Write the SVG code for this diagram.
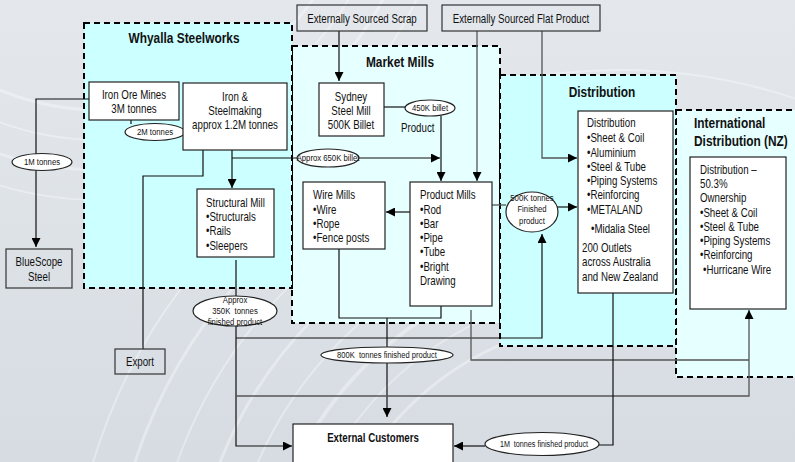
<svg xmlns="http://www.w3.org/2000/svg" width="795" height="462" viewBox="0 0 795 462">
<defs>
<style>
.t{font-family:'Liberation Sans',Arial,sans-serif;font-size:12px;fill:#111}
.c{text-anchor:middle}
.b{font-weight:bold}
.h{font-family:'Liberation Sans',Arial,sans-serif;font-size:14px;font-weight:bold;fill:#111}
.s{font-family:'Liberation Sans',Arial,sans-serif;font-size:9px;fill:#111;text-anchor:middle}
.box{fill:#fff;stroke:#222;stroke-width:1.2}
.gbox{fill:none;stroke:#333;stroke-width:1.2}
.ell{fill:#fff;stroke:#222;stroke-width:1.2}
.cont{stroke:#000;stroke-width:2;stroke-dasharray:6,4}
.ln{fill:none;stroke:#111;stroke-width:1.2}
.gl{fill:none;stroke:#555;stroke-width:1.3}
.arc{fill:none;stroke:#fff;stroke-opacity:0.35}
</style>
<marker id="ar" viewBox="0 0 10 10" refX="10" refY="5" markerWidth="9" markerHeight="9" markerUnits="userSpaceOnUse" orient="auto">
<path d="M0,0 L10,5 L0,10 z" fill="#000"/>
</marker>
<linearGradient id="bg" x1="0" y1="0" x2="0" y2="1">
<stop offset="0" stop-color="#e4e8ec"/>
<stop offset="1" stop-color="#d6dce2"/>
</linearGradient>
</defs>
<g id="background">
<rect width="795" height="462" fill="url(#bg)"/>
<circle class="arc" cx="620" cy="620" r="300" stroke-width="3"/>
<circle class="arc" cx="620" cy="620" r="330" stroke-width="2"/>
<circle class="arc" cx="620" cy="620" r="360" stroke-width="4"/>
<circle class="arc" cx="620" cy="620" r="395" stroke-width="2"/>
<circle class="arc" cx="620" cy="620" r="430" stroke-width="3"/>
<circle class="arc" cx="620" cy="620" r="470" stroke-width="2"/>
<circle class="arc" cx="620" cy="620" r="510" stroke-width="3"/>
<circle class="arc" cx="620" cy="620" r="550" stroke-width="2"/>
<circle class="arc" cx="100" cy="-150" r="260" stroke-width="3"/>
<circle class="arc" cx="100" cy="-150" r="290" stroke-width="2"/>
<circle class="arc" cx="100" cy="-150" r="320" stroke-width="3"/>
<circle class="arc" cx="100" cy="-150" r="350" stroke-width="2"/>
</g>
<g id="containers">
<rect id="market-mills" x="292" y="46" width="208" height="277" fill="#e6ffff" class="cont"/>
<rect id="nz" x="676" y="110" width="125" height="267" fill="#e6ffff" class="cont"/>
<rect id="distribution" x="500" y="75" width="176" height="271" fill="#ccffff" class="cont"/>
<rect id="whyalla" x="84" y="23" width="208" height="265" fill="#ccffff" class="cont"/>
<text class="h c" transform="translate(184,43) scale(.85,1)">Whyalla Steelworks</text>
<text class="h c" transform="translate(400,67) scale(.85,1)">Market Mills</text>
<text class="h c" transform="translate(602,97) scale(.85,1)">Distribution</text>
<text class="h" transform="translate(694,128) scale(.85,1)">International</text>
<text class="h" transform="translate(694,146) scale(.85,1)">Distribution (NZ)</text>
</g>
<g id="connectors">
<polyline class="ln" points="89,99 36,99 36,247" marker-end="url(#ar)"/>
<line class="ln" x1="131" y1="120" x2="131" y2="124"/>
<line class="ln" x1="185" y1="128" x2="196" y2="128" marker-end="url(#ar)"/>
<polyline class="ln" points="203,150 203,176 143,176 143,349"/>
<line class="ln" x1="232" y1="150" x2="232" y2="188" marker-end="url(#ar)"/>
<line class="ln" x1="232" y1="158" x2="440" y2="158" marker-end="url(#ar)"/>
<line class="ln" x1="339" y1="31" x2="339" y2="81" marker-end="url(#ar)"/>
<line class="ln" x1="384" y1="107" x2="406" y2="107"/>
<line class="ln" x1="441" y1="116" x2="441" y2="181" marker-end="url(#ar)"/>
<line class="gl" x1="477" y1="31" x2="477" y2="181" marker-end="url(#ar)"/>
<polyline class="gl" points="542,31 542,158 577,158" marker-end="url(#ar)"/>
<line class="ln" x1="410" y1="212" x2="386" y2="212" marker-end="url(#ar)"/>
<line class="gl" x1="492" y1="205" x2="506" y2="205"/>
<line class="ln" x1="557" y1="207" x2="577" y2="207" marker-end="url(#ar)"/>
<polyline class="ln" points="339,249 339,318 441,318 441,306"/>
<line class="ln" x1="387" y1="318" x2="387" y2="417" marker-end="url(#ar)"/>
<polyline class="ln" points="236,260 236,446 292,446" marker-end="url(#ar)"/>
<polyline class="ln" points="236,338 542,338 542,234" marker-end="url(#ar)"/>
<polyline class="gl" points="236,396 749,396 749,310" marker-end="url(#ar)"/>
<polyline class="gl" points="471,310 471,360 749,360"/>
<polyline class="ln" points="613,293 613,445 599,445"/>
<line class="ln" x1="485" y1="446" x2="454" y2="446" marker-end="url(#ar)"/>
</g>
<g id="label-2m"><ellipse class="ell" cx="155" cy="132" rx="30" ry="8.5"/><text class="s" transform="translate(155,135) scale(.86,1)">2M tonnes</text></g>
<g id="label-1m"><ellipse class="ell" cx="42" cy="162" rx="30" ry="8.5"/><text class="s" transform="translate(42,165) scale(.86,1)">1M tonnes</text></g>
<g id="label-650k"><ellipse class="ell" cx="328" cy="158" rx="31" ry="9"/><text class="s" transform="translate(328,161) scale(.86,1)">Approx 650K billet</text></g>
<g id="label-450k"><ellipse class="ell" cx="430" cy="108" rx="25" ry="8"/><text class="s" transform="translate(430,111) scale(.86,1)">450K billet</text></g>
<g id="label-500k"><ellipse class="ell" cx="532" cy="212" rx="26" ry="20"/><text class="s" transform="translate(532,201) scale(.86,1)">500K tonnes</text><text class="s" transform="translate(532,212) scale(.86,1)">Finished</text><text class="s" transform="translate(532,224) scale(.86,1)">product</text></g>
<g id="label-350k"><ellipse class="ell" cx="235" cy="311" rx="42" ry="15"/><text class="s" transform="translate(235,303) scale(.86,1)">Approx</text><text class="s" transform="translate(235,314) scale(.86,1)" xml:space="preserve">350K  tonnes</text><text class="s" transform="translate(235,325) scale(.86,1)">finished product</text></g>
<g id="label-800k"><ellipse class="ell" cx="387" cy="355" rx="66" ry="8"/><text class="s" transform="translate(387,358) scale(.84,1)" xml:space="preserve">800K  tonnes finished product</text></g>
<g id="label-1mfp"><ellipse class="ell" cx="542" cy="444" rx="57" ry="11.5"/><text class="s" transform="translate(544,447) scale(.8,1)" xml:space="preserve">1M  tonnes finished product</text></g>
<g id="iron-ore-mines"><rect class="box" x="89" y="82" width="90" height="38"/><text class="t c" transform="translate(134,99) scale(.81,1)">Iron Ore Mines</text><text class="t c" transform="translate(134,113) scale(.81,1)">3M tonnes</text></g>
<g id="iron-steelmaking"><rect class="box" x="183" y="83" width="104" height="67"/><text class="t c" transform="translate(235,101) scale(.81,1)">Iron &amp;</text><text class="t c" transform="translate(235,115) scale(.81,1)">Steelmaking</text><text class="t c" transform="translate(235,129) scale(.81,1)">approx 1.2M tonnes</text></g>
<g id="structural-mill"><rect class="box" x="197" y="189" width="77" height="68"/><text class="t" transform="translate(206,207) scale(.81,1)">Structural Mill</text><text class="t" transform="translate(206,221) scale(.81,1)">•Structurals</text><text class="t" transform="translate(206,235) scale(.81,1)">•Rails</text><text class="t" transform="translate(206,250) scale(.81,1)">•Sleepers</text></g>
<g id="bluescope"><rect class="gbox" x="6" y="249" width="66" height="39"/><text class="t c" transform="translate(39,266) scale(.81,1)">BlueScope</text><text class="t c" transform="translate(39,281) scale(.81,1)">Steel</text></g>
<g id="export"><rect class="gbox" x="115" y="349" width="50" height="25"/><text class="t c" transform="translate(140,366) scale(.81,1)">Export</text></g>
<g id="scrap"><rect class="gbox" x="297" y="5" width="130" height="26"/><text class="t c" transform="translate(362,23) scale(.81,1)">Externally Sourced Scrap</text></g>
<g id="flat-product"><rect class="gbox" x="442" y="5" width="158" height="26"/><text class="t c" transform="translate(521,23) scale(.81,1)">Externally Sourced Flat Product</text></g>
<g id="sydney-steel-mill"><rect class="box" x="319" y="83" width="65" height="53"/><text class="t c" transform="translate(351,101) scale(.81,1)">Sydney</text><text class="t c" transform="translate(351,115) scale(.81,1)">Steel Mill</text><text class="t c" transform="translate(351,129) scale(.81,1)">500K Billet</text></g>
<text class="t" transform="translate(401,132) scale(.81,1)">Product</text>
<g id="wire-mills"><rect class="box" x="303" y="182" width="82" height="67"/><text class="t" transform="translate(313,199) scale(.81,1)">Wire Mills</text><text class="t" transform="translate(313,214) scale(.81,1)">•Wire</text><text class="t" transform="translate(313,228) scale(.81,1)">•Rope</text><text class="t" transform="translate(313,242) scale(.81,1)">•Fence posts</text></g>
<g id="product-mills"><rect class="box" x="410" y="182" width="82" height="124"/><text class="t" transform="translate(420,199) scale(.81,1)">Product Mills</text><text class="t" transform="translate(420,214) scale(.81,1)">•Rod</text><text class="t" transform="translate(420,228) scale(.81,1)">•Bar</text><text class="t" transform="translate(420,242) scale(.81,1)">•Pipe</text><text class="t" transform="translate(420,256) scale(.81,1)">•Tube</text><text class="t" transform="translate(420,271) scale(.81,1)">•Bright</text><text class="t" transform="translate(420,285) scale(.81,1)">Drawing</text></g>
<g id="distribution-node"><rect class="box" x="578" y="111" width="95" height="182"/><text class="t" transform="translate(587,127) scale(.81,1)">Distribution</text><text class="t" transform="translate(587,142) scale(.81,1)">•Sheet &amp; Coil</text><text class="t" transform="translate(587,157) scale(.81,1)">•Aluminium</text><text class="t" transform="translate(587,171) scale(.81,1)">•Steel &amp; Tube</text><text class="t" transform="translate(587,185) scale(.81,1)">•Piping Systems</text><text class="t" transform="translate(587,199) scale(.81,1)">•Reinforcing</text><text class="t" transform="translate(587,214) scale(.81,1)">•METALAND</text><text class="t" transform="translate(591,233) scale(.81,1)">•Midalia Steel</text><text class="t" transform="translate(582,252) scale(.81,1)">200 Outlets</text><text class="t" transform="translate(582,266) scale(.81,1)">across Australia</text><text class="t" transform="translate(582,281) scale(.81,1)">and New Zealand</text></g>
<g id="nz-node"><rect class="box" x="690" y="157" width="96" height="152"/><text class="t" transform="translate(700,174) scale(.81,1)">Distribution –</text><text class="t" transform="translate(700,188) scale(.81,1)">50.3%</text><text class="t" transform="translate(700,202) scale(.81,1)">Ownership</text><text class="t" transform="translate(700,217) scale(.81,1)">•Sheet &amp; Coil</text><text class="t" transform="translate(700,231) scale(.81,1)">•Steel &amp; Tube</text><text class="t" transform="translate(700,245) scale(.81,1)">•Piping Systems</text><text class="t" transform="translate(700,259) scale(.81,1)">•Reinforcing</text><text class="t" transform="translate(703,274) scale(.81,1)">•Hurricane Wire</text></g>
<g id="external-customers"><rect class="box" x="293" y="424" width="160" height="45"/><text class="t c b" transform="translate(373,442) scale(.81,1)">External Customers</text></g>
</svg>
